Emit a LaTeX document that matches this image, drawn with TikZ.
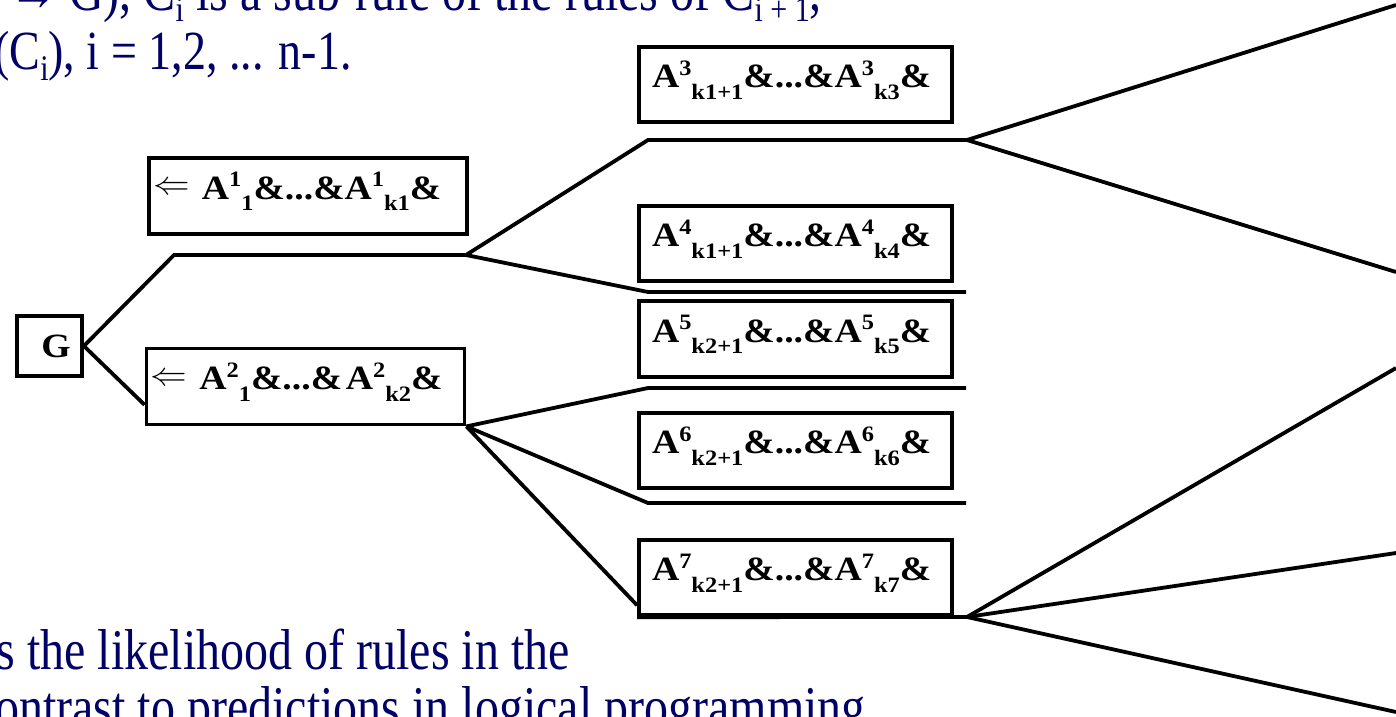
\documentclass[tikz,border=0pt]{standalone}
\usepackage{fontspec}
\setmainfont{Liberation Serif}
\usetikzlibrary{calc}
\definecolor{navy}{RGB}{0,0,102}

% a literal A with an upper index followed by a lower index
\newcommand{\Aterm}[2]{A\raisebox{0.36em}{\fontsize{22}{22}\selectfont #1}\raisebox{-0.34em}{\fontsize{22}{22}\selectfont #2}}
% bold, slightly widened text inside the rule boxes
\newcommand{\boxtext}[1]{\scalebox{1.11}[1]{\fontsize{34}{34}\selectfont\bfseries #1}}
% implication arrow at the head of a rule body
\newcommand{\impl}{\raisebox{0.12em}{\resizebox{33pt}{!}{$\Leftarrow$}}\hspace{11pt}}
% small lowered index in slide text
\newcommand{\idx}[1]{\raisebox{-0.2em}{\fontsize{30}{30}\selectfont #1}}
% slide text, slightly tall
\newcommand{\slidetext}[2][48]{\scalebox{1}[1.2]{\fontsize{#1}{#1}\selectfont #2}}

\begin{document}
\begin{tikzpicture}[x=1pt, y=-1pt,
  edge/.style={line width=3.8pt, line join=miter},
  gbox/.style={draw, line width=3.8pt, minimum width=65pt, minimum height=60pt, inner sep=0pt},
  rulebox/.style={draw, line width=3.8pt, minimum width=313pt, minimum height=75.5pt,
                  inner xsep=13pt, inner ysep=0pt, text width=287pt, align=left,
                  text height=25pt, text depth=19pt},
  headbox/.style={rulebox, minimum width=318pt, minimum height=76pt, inner xsep=4pt, text width=310pt},
  slide/.style={text=navy, inner sep=0pt, anchor=base east}
]
\useasboundingbox (0,0) rectangle (1396,716);

% slide text around the tree
\node[slide] (t1) at (822,10)  {\slidetext{→ G), C\idx{i} is a sub-rule of the rules of C\idx{i + 1},}};
\node[slide] (t2) at (352,69)  {\slidetext[46]{(C\idx{i}), i = 1,2, ... n-1.}};
\node[slide] (t3) at (570,669) {\slidetext{s the likelihood of rules in the}};
\node[slide] (t4) at (866,726) {\slidetext{ontrast to predictions in logical programming}};

% goal and rule bodies
\node[gbox] (G) at (49.5,346) {\boxtext{\hspace*{12pt}G}};
\node[headbox] (b1) at (308,196)   {\boxtext{\impl\Aterm{1}{1}\&...\&\Aterm{1}{k1}\&}};
\node[headbox] (b2) at (305.5,386.5) {\boxtext{\impl\Aterm{2}{1}\&...\& \Aterm{2}{k2}\&}};
\node[rulebox] (b3) at (795.5,84.5)  {\boxtext{\Aterm{3}{k1+1}\&...\&\Aterm{3}{k3}\&}};
\node[rulebox] (b4) at (795.5,243.5) {\boxtext{\Aterm{4}{k1+1}\&...\&\Aterm{4}{k4}\&}};
\node[rulebox] (b5) at (795.5,339)   {\boxtext{\Aterm{5}{k2+1}\&...\&\Aterm{5}{k5}\&}};
\node[rulebox] (b6) at (795.5,450.5) {\boxtext{\Aterm{6}{k2+1}\&...\&\Aterm{6}{k6}\&}};
\node[rulebox] (b7) at (795.5,577.5) {\boxtext{\Aterm{7}{k2+1}\&...\&\Aterm{7}{k7}\&}};

% branch points
\coordinate (j1) at (466,255);
\coordinate (j2) at (b2.south east);
\coordinate (j3) at (967,140);
\coordinate (j4) at (967,617);
\coordinate (r1) at (1396,5);
\coordinate (r2) at (1396,272);
\coordinate (r3) at (1396,368);
\coordinate (r4) at (1396,553);
\coordinate (r5) at (1396,712);

% first level
\draw[edge] (G.east) -- (174,255) -- (j1);
\draw[edge] (G.east) -- ($(b2.south west)!0.27!(b2.north west)$);

% second level
\draw[edge] (j1) -- (648,140) -- (j3);
\draw[edge] (j1) -- (648,292) -- (966,292);
\draw[edge] (j2) -- (648,388) -- (966,388);
\draw[edge] (j2) -- (648,503) -- (966,503);
\draw[edge] (j2) -- ($(b7.south west)!0.15!(b7.north west)$);

% third level
\draw[edge] (j3) -- (r1);
\draw[edge] (j3) -- (r2);
\draw[edge] (b7.south west) -- (j4) -- (r3);
\draw[edge] (j4) -- (r4);
\draw[edge] (j4) -- (r5);
\end{tikzpicture}
\end{document}
